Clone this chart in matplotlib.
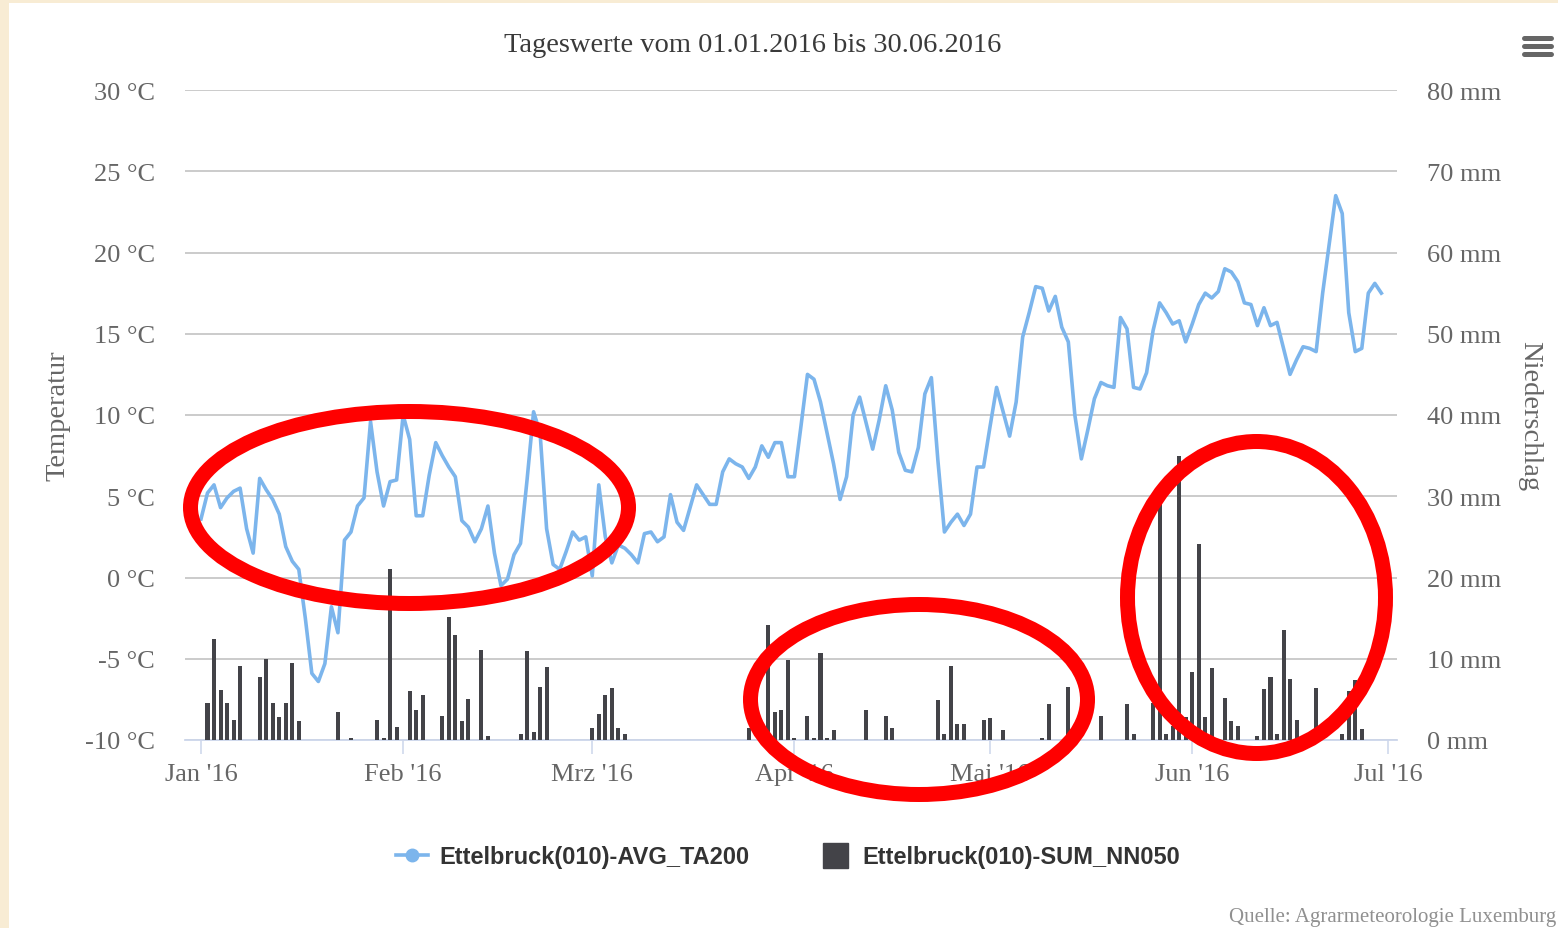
import numpy as np
import pandas as pd
import matplotlib
matplotlib.use("Agg")
import matplotlib.pyplot as plt
from matplotlib.patches import Ellipse, Rectangle
from matplotlib.lines import Line2D

# ---------------- data ----------------
temp_jan = [3.6, 5.2, 5.7, 4.3, 4.9, 5.3, 5.5, 3.0, 1.5, 6.1, 5.4, 4.8, 3.9, 1.9, 1.0, 0.5,
            -2.5, -5.9, -6.4, -5.3, -1.8, -3.4, 2.3, 2.8, 4.4, 4.9, 9.6, 6.5, 4.4, 5.9, 6.0]
temp_feb = [10.0, 8.5, 3.8, 3.8, 6.3, 8.3, 7.5, 6.8, 6.2, 3.5, 3.1, 2.2, 3.0, 4.4, 1.5,
            -0.5, -0.1, 1.4, 2.1, 6.0, 10.2, 8.9, 3.0, 0.8, 0.5, 1.6, 2.8, 2.3, 2.5]
temp_mar = [0.1, 5.7, 2.5, 0.9, 2.0, 1.8, 1.4, 0.9, 2.7, 2.8, 2.2, 2.5, 5.1, 3.4, 2.9, 4.3,
            5.7, 5.1, 4.5, 4.5, 6.5, 7.3, 7.0, 6.8, 6.1, 6.8, 8.1, 7.4, 8.3, 8.3, 6.2]
temp_apr = [6.2, 9.3, 12.5, 12.2, 10.8, 8.9, 7.0, 4.8, 6.2, 10.0, 11.1, 9.5, 7.9, 9.7, 11.8,
            10.3, 7.7, 6.6, 6.5, 8.0, 11.3, 12.3, 7.2, 2.8, 3.4, 3.9, 3.2, 3.9, 6.8, 6.8]
temp_may = [9.3, 11.7, 10.2, 8.7, 10.8, 14.8, 16.3, 17.9, 17.8, 16.4, 17.3, 15.4, 14.5, 10.0,
            7.3, 9.1, 11.0, 12.0, 11.8, 11.7, 16.0, 15.3, 11.7, 11.6, 12.6, 15.2, 16.9, 16.3,
            15.6, 15.8, 14.5]
temp_jun = [15.6, 16.8, 17.5, 17.2, 17.6, 19.0, 18.8, 18.2, 16.9, 16.8, 15.5, 16.6, 15.5, 15.7,
            14.1, 12.5, 13.4, 14.2, 14.1, 13.9, 17.5, 20.5, 23.5, 22.4, 16.3, 13.9, 14.1, 17.5,
            18.1, 17.5]

rain_jan = [0, 4.5, 12.4, 6.2, 4.5, 2.5, 9.1, 0, 0, 7.8, 10.0, 4.5, 2.8, 4.5, 9.5, 2.3,
            0, 0, 0, 0, 0, 3.5, 0, 0.3, 0, 0, 0, 2.5, 0.3, 21.0, 1.6]
rain_feb = [0, 6.0, 3.7, 5.5, 0, 0, 3.0, 15.2, 12.9, 2.3, 5.0, 0, 11.1, 0.5, 0, 0, 0, 0,
            0.7, 10.9, 1.0, 6.5, 9.0, 0, 0, 0, 0, 0, 0]
rain_mar = [1.5, 3.2, 5.5, 6.4, 1.5, 0.7, 0, 0, 0, 0, 0, 0, 0, 0, 0, 0, 0, 0, 0, 0, 0, 0, 0, 0,
            1.5, 0, 0, 14.1, 3.5, 3.7, 9.8]
rain_apr = [0.2, 0, 2.9, 0.2, 10.7, 0.2, 1.2, 0, 0, 0, 0, 3.7, 0, 0, 2.9, 1.5, 0, 0, 0, 0, 0, 0,
            4.9, 0.7, 9.1, 2.0, 2.0, 0, 0, 2.5]
rain_may = [2.7, 0, 1.2, 0, 0, 0, 0, 0, 0.2, 4.4, 0, 0, 6.5, 0, 0, 0, 0, 3.0, 0, 0, 0, 4.4, 0.7,
            0, 0, 4.5, 29.4, 0.7, 1.7, 35.0, 2.8]
rain_jun = [8.4, 24.1, 2.8, 8.9, 0, 5.2, 2.3, 1.7, 0, 0, 0.5, 6.3, 7.7, 0.7, 13.6, 7.5, 2.5,
            0, 0, 6.4, 0, 0, 0, 0.7, 6.0, 7.4, 1.3, 0, 0, 0]

month_starts = ["2016-01-01", "2016-02-01", "2016-03-01", "2016-04-01",
                "2016-05-01", "2016-06-01", "2016-07-01"]
month_labels = ["Jan '16", "Feb '16", "Mrz '16", "Apr '16", "Mai '16", "Jun '16", "Jul '16"]
temp_ticks = [-10, -5, 0, 5, 10, 15, 20, 25, 30]
rain_ticks = [0, 10, 20, 30, 40, 50, 60, 70, 80]

series_names = ["Ettelbruck(010)-AVG_TA200", "Ettelbruck(010)-SUM_NN050"]
title_text = "Tageswerte vom 01.01.2016 bis 30.06.2016"
source_text = "Quelle: Agrarmeteorologie Luxemburg"

temp = np.array(temp_jan + temp_feb + temp_mar + temp_apr + temp_may + temp_jun)
rain = np.array(rain_jan + rain_feb + rain_mar + rain_apr + rain_may + rain_jun)
dates = pd.date_range("2016-01-01", periods=len(temp), freq="D")

# ---------------- styling ----------------
plt.rcParams['font.family'] = ['Liberation Serif', 'DejaVu Serif']
LINE_C = '#7cb5ec'
BAR_C = '#434348'
GRID_C = '#cbcbcb'
AXIS_C = '#ccd6eb'
LABEL_C = '#666666'

W, H = 1558, 929
fig = plt.figure(figsize=(W / 100, H / 100), dpi=100)
fig.patch.set_facecolor('#f8ecd4')
fig.add_artist(Rectangle((9 / W, 0), 1 - 9 / W, 1 - 4 / H, transform=fig.transFigure,
                         facecolor='white', edgecolor='none', zorder=-1))

L, R, T, B = 185, 1397, 91, 741
ax = fig.add_axes([L / W, 1 - B / H, (R - L) / W, (B - T) / H])
ax2 = ax.twinx()

ax.plot(dates, temp, color=LINE_C, lw=2.6, solid_joinstyle='round', zorder=3)
ax2.bar(dates, rain, width=0.62, color=BAR_C, zorder=2)

ax.set_xlim(dates[0] - pd.Timedelta(days=2.45), dates[0] + pd.Timedelta(days=183.4))
ax.set_ylim(-10, 30)
ax2.set_ylim(0, 80)

ax.set_yticks(temp_ticks, labels=[f"{t} °C" for t in temp_ticks])
ax2.set_yticks(rain_ticks, labels=[f"{r} mm" for r in rain_ticks])
ax.set_xticks(pd.to_datetime(month_starts), labels=month_labels)

ax.yaxis.grid(True, color=GRID_C, lw=1.4)
ax.set_axisbelow(True)
for a in (ax, ax2):
    for s in a.spines.values():
        s.set_visible(False)
ax.spines['bottom'].set_visible(True)
ax.spines['bottom'].set_color(AXIS_C)
ax.spines['bottom'].set_linewidth(1.3)

ax.tick_params(axis='y', length=0, pad=21.6, labelsize=19, labelcolor=LABEL_C)
ax2.tick_params(axis='y', length=0, pad=21.6, labelsize=19, labelcolor=LABEL_C)
ax.tick_params(axis='x', length=10, width=1.1, color=AXIS_C, pad=6.5, labelsize=19,
               labelcolor=LABEL_C)

ax.set_ylabel("Temperatur", fontsize=20.5, color=LABEL_C, va='center')
ax.yaxis.set_label_coords((58 - L) / (R - L), 0.5)
ax2.set_ylabel("Niederschlag", fontsize=20.5, color=LABEL_C, rotation=270, va='center')
ax2.yaxis.set_label_coords((1530 - L) / (R - L), 0.5)

fig.text(753 / W, 1 - 46 / H, title_text, ha='center', va='center', fontsize=20.5,
         color='#3a3a3a')
fig.text(1556 / W, 1 - 918 / H, source_text, ha='right', va='center', fontsize=15,
         color='#909090')

handles = [Line2D([], [], color=LINE_C, lw=2.6, marker='o', markersize=9),
           Line2D([], [], color=BAR_C, marker='s', linestyle='none', markersize=18)]
fig.legend(handles, series_names, loc='center', bbox_to_anchor=(788 / W, 1 - 858 / H),
           ncol=2, frameon=False,
           prop={'family': ['Liberation Sans', 'DejaVu Sans'], 'weight': 'bold', 'size': 17},
           handlelength=1.36, handletextpad=0.47, columnspacing=2.97, borderpad=0,
           labelcolor='#333333')

# ---------------- overlay: annotations and menu icon (pixel coords) ----------------
ov = fig.add_axes([0, 0, 1, 1])
ov.set_xlim(0, W)
ov.set_ylim(H, 0)
ov.axis('off')
ov.patch.set_visible(False)
for (cx, cy, ew, eh) in [(409.5, 508.5, 438, 192), (919, 700.5, 337, 190),
                         (1256.5, 598.5, 258, 312)]:
    ov.add_patch(Ellipse((cx, cy), ew, eh, fill=False, edgecolor='#ff0000', lw=10.8))
for y in (38.5, 46.5, 54.5):
    ov.plot([1524, 1551], [y, y], color='#666666', lw=3.6, solid_capstyle='round')

fig.savefig("out.png", dpi=100, facecolor=fig.get_facecolor())
